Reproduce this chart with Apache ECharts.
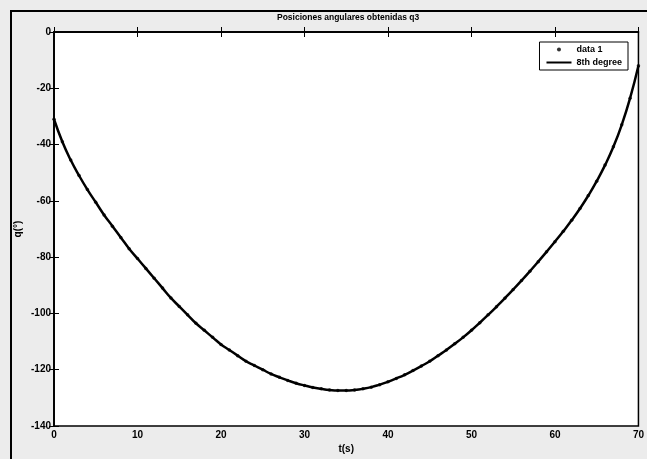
<!DOCTYPE html>
<html>
<head>
<meta charset="utf-8">
<script src="https://cdn.jsdelivr.net/npm/echarts@6/dist/echarts.min.js"></script>
<style>
  html, body { margin: 0; padding: 0; background: #fff; }
  #chart { width: 647px; height: 459px; }
</style>
</head>
<body>
<div id="chart"></div>
<script>
// Sample times (s)
const times = [
  0, 1, 2, 3, 4, 5, 6, 7, 8, 9,
  10, 11, 12, 13, 14, 15, 16, 17, 18, 19,
  20, 21, 22, 23, 24, 25, 26, 27, 28, 29,
  30, 31, 32, 33, 34, 35, 36, 37, 38, 39,
  40, 41, 42, 43, 44, 45, 46, 47, 48, 49,
  50, 51, 52, 53, 54, 55, 56, 57, 58, 59,
  60, 61, 62, 63, 64, 65, 66, 67, 68, 69, 70
];
// Joint angle q3 (degrees) at each sample
const data1 = [
  -31, -39, -45.5, -51, -56, -60.5, -65, -69, -73, -77,
  -80.5, -84, -87.5, -91, -94.5, -97.5, -100.5, -103.5, -106, -108.5,
  -111, -113, -115, -117, -118.5, -120, -121.5, -122.7, -123.8, -124.8,
  -125.6, -126.3, -126.8, -127.2, -127.4, -127.4, -127.2, -126.8, -126.2, -125.3,
  -124.3, -123.1, -121.8, -120.3, -118.7, -117, -115, -113, -110.8, -108.5,
  -106, -103.3, -100.5, -97.6, -94.6, -91.5, -88.3, -85, -81.6, -78.1,
  -74.5, -70.8, -66.9, -62.7, -58.1, -53, -47.3, -40.8, -33, -23.5, -12
];
// 8th degree polynomial fit, evaluated at the same times
const fit8 = [
  -31, -39, -45.5, -51, -56, -60.5, -65, -69, -73, -77,
  -80.5, -84, -87.5, -91, -94.5, -97.5, -100.5, -103.5, -106, -108.5,
  -111, -113, -115, -117, -118.5, -120, -121.5, -122.7, -123.8, -124.8,
  -125.6, -126.3, -126.8, -127.2, -127.4, -127.4, -127.2, -126.8, -126.2, -125.3,
  -124.3, -123.1, -121.8, -120.3, -118.7, -117, -115, -113, -110.8, -108.5,
  -106, -103.3, -100.5, -97.6, -94.6, -91.5, -88.3, -85, -81.6, -78.1,
  -74.5, -70.8, -66.9, -62.7, -58.1, -53, -47.3, -40.8, -33, -23.5, -12
];
const xTicks = { min: 0, max: 70, step: 10 };
const yTicks = { min: -140, max: 0, step: 20 };

const pairs = (xs, ys) => xs.map((x, i) => [x, ys[i]]);
const FONT = 'Liberation Sans, Arial, sans-serif';

const tickStyle = { inside: true, length: 5, lineStyle: { color: '#000', width: 1 } };
const labelStyle = { color: '#000', fontFamily: FONT, fontSize: 10, fontWeight: 'bold' };

const chart = echarts.init(document.getElementById('chart'), null, { renderer: 'canvas' });
chart.setOption({
  backgroundColor: '#ececec',
  animation: false,
  title: {
    text: 'Posiciones angulares obtenidas q3',
    left: 272, top: 8,
    textStyle: { color: '#000', fontFamily: FONT, fontSize: 8.5, fontWeight: 'bold' }
  },
  graphic: [{
    type: 'rect', z: -1,
    shape: { x: 11, y: 11, width: 700, height: 500 },
    style: { fill: null, stroke: '#000', lineWidth: 2 }
  }],
  grid: {
    left: 54, right: 5, top: 32, bottom: 28,
    show: true, backgroundColor: '#fff', borderColor: '#000', borderWidth: 1.5
  },
  legend: {
    orient: 'vertical', right: 19, top: 42,
    backgroundColor: '#fff', borderColor: '#000', borderWidth: 1,
    padding: [3, 6, 3, 6], itemGap: 4, itemWidth: 25, itemHeight: 4,
    textStyle: { color: '#000', fontFamily: FONT, fontSize: 9, fontWeight: 'bold' },
    data: [
      { name: 'data 1', icon: 'circle' },
      { name: '8th degree', itemStyle: { opacity: 0 } }
    ]
  },
  xAxis: [{
    type: 'value', min: xTicks.min, max: xTicks.max, interval: xTicks.step,
    name: 't(s)', nameLocation: 'middle', nameGap: 18, nameMoveOverlap: false,
    nameTextStyle: { color: '#000', fontFamily: FONT, fontSize: 10, fontWeight: 'bold' },
    axisLine: { lineStyle: { color: '#000', width: 1.5 } },
    axisTick: tickStyle, splitLine: { show: false },
    axisLabel: Object.assign({ margin: 4 }, labelStyle)
  }, {
    type: 'value', position: 'top', min: xTicks.min, max: xTicks.max, interval: xTicks.step,
    axisLine: { lineStyle: { color: '#000', width: 1.5 } },
    axisTick: tickStyle, axisLabel: { show: false }, splitLine: { show: false }
  }],
  yAxis: [{
    type: 'value', min: yTicks.min, max: yTicks.max, interval: yTicks.step,
    name: 'q(°)', nameLocation: 'middle', nameGap: 31, nameMoveOverlap: false,
    nameTextStyle: { color: '#000', fontFamily: FONT, fontSize: 10, fontWeight: 'bold' },
    axisLine: { lineStyle: { color: '#000', width: 1.5 } },
    axisTick: tickStyle, splitLine: { show: false },
    axisLabel: Object.assign({ margin: 3 }, labelStyle)
  }, {
    type: 'value', position: 'right', min: yTicks.min, max: yTicks.max, interval: yTicks.step,
    axisLine: { lineStyle: { color: '#000', width: 1.5 } },
    axisTick: tickStyle, axisLabel: { show: false }, splitLine: { show: false }
  }],
  series: [{
    name: 'data 1', type: 'scatter',
    data: pairs(times, data1),
    symbol: 'circle', symbolSize: 3.5,
    itemStyle: { color: '#000' }
  }, {
    name: '8th degree', type: 'line',
    data: pairs(times, fit8),
    smooth: true, showSymbol: false, symbol: 'none',
    lineStyle: { color: '#000', width: 2.5 },
    itemStyle: { color: '#000' }
  }]
});
</script>
</body>
</html>
